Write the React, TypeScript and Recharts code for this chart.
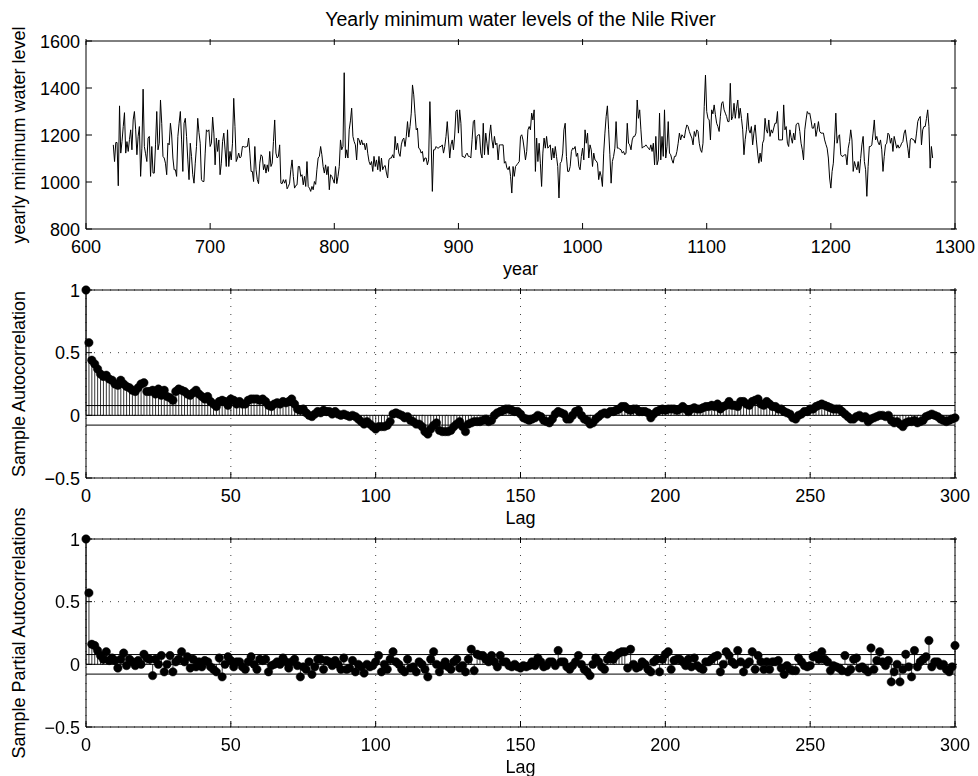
import React from "react";
import {
  ComposedChart,
  LineChart,
  Line,
  Bar,
  XAxis,
  YAxis,
  CartesianGrid,
  ReferenceLine,
  Label,
} from "recharts";

// Nile yearly minima, one value per year starting at 622
const FIRST_YEAR = 622;

const levels622to771 = [
  1158, 1087, 1168, 1168, 984, 1324, 1123, 1172, 1236, 1295,
  1123, 1172, 1130, 1180, 1222, 1137, 1264, 1300, 1222, 1116,
  1194, 1236, 1024, 1144, 1395, 1151, 1120, 1087, 1187, 1194,
  1024, 1151, 1038, 1038, 1158, 1300, 1137, 1165, 1349, 1250,
  1109, 1102, 1080, 1031, 1165, 1158, 1250, 1200, 1102, 1052,
  1052, 1024, 1194, 1250, 1300, 1179, 1045, 1250, 1271, 1194,
  1094, 1010, 1165, 1109, 1031, 995, 1080, 1151, 1271, 1210,
  1165, 1010, 1002, 1002, 1123, 1222, 1215, 1222, 1151, 1165,
  1276, 1208, 1073, 1187, 1130, 1179, 1031, 1080, 1172, 1208,
  1140, 1066, 1222, 1066, 1130, 1094, 1165, 1356, 1236, 1087,
  1102, 1123, 1102, 1109, 1151, 1151, 1148, 1150, 1151, 1187,
  1123, 1045, 1045, 1002, 1151, 1052, 1010, 993, 1080, 1116,
  1109, 1052, 1075, 1038, 1073, 1045, 1130, 1066, 1080, 1172,
  1264, 1123, 1102, 1109, 1158, 995, 993, 1010, 995, 1010,
  971, 981, 995, 1052, 1094, 1024, 974, 985, 988, 1066,
];

const levels772to957 = [
  1066, 1024, 1031, 988, 1024, 981, 1087, 981, 974, 960,
  981, 967, 1002, 990, 1052, 1102, 1109, 1151, 1116, 1066,
  1038, 1073, 1031, 1066, 967, 1031, 1024, 1010, 995, 1066,
  993, 1024, 1066, 1179, 1137, 1151, 1465, 1102, 1137, 1102,
  1222, 1260, 1314, 1194, 1172, 1158, 1094, 1187, 1179, 1158,
  1179, 1158, 1165, 1137, 1165, 1120, 1087, 1073, 1087, 1045,
  1109, 1066, 1094, 1052, 1109, 1045, 1102, 1052, 1066, 1070,
  1038, 1017, 1094, 1102, 1102, 1116, 1102, 1194, 1137, 1165,
  1123, 1109, 1158, 1180, 1187, 1151, 1194, 1257, 1191, 1236,
  1293, 1413, 1371, 1293, 1222, 1229, 1144, 1140, 1123, 1130,
  1087, 1102, 1102, 1073, 1094, 1342, 1179, 960, 1137, 1137,
  1151, 1145, 1144, 1151, 1151, 1158, 1123, 1151, 1194, 1257,
  1179, 1102, 1158, 1179, 1137, 1200, 1300, 1307, 1208, 1307,
  1250, 1109, 1109, 1102, 1116, 1123, 1109, 1109, 1102, 1180,
  1257, 1264, 1137, 1194, 1201, 1201, 1123, 1102, 1250, 1116,
  1208, 1165, 1116, 1200, 1243, 1179, 1144, 1194, 1158, 1165,
  1094, 1158, 1158, 1158, 1158, 1080, 1087, 1060, 1052, 1066,
  1024, 953, 1066, 1024, 1066, 1073, 1080, 1087, 1194, 1201,
  1179, 1140, 1094, 1130, 1222, 1236,
];

const levels958to1142 = [
  1222, 1293, 1264, 1307, 1045, 1187, 1087, 1165, 1080, 981,
  1123, 1187, 1144, 1194, 1144, 1150, 1158, 1094, 1144, 1102,
  1151, 1109, 1066, 932, 1080, 1087, 1123, 1222, 1250, 1109,
  1045, 1045, 1066, 1130, 1144, 1140, 1151, 1109, 1123, 1066,
  1052, 1109, 1144, 1094, 1222, 1165, 1208, 1102, 1158, 1137,
  1066, 1123, 1094, 1090, 1080, 1010, 1045, 1024, 981, 1123,
  1208, 1279, 1324, 1222, 1116, 995, 1087, 1109, 1144, 1257,
  1144, 1144, 1140, 1137, 1123, 1130, 1116, 1123, 1250, 1165,
  1158, 1137, 1179, 1194, 1194, 1208, 1349, 1271, 1307, 1222,
  1144, 1150, 1151, 1158, 1151, 1144, 1137, 1158, 1130, 1165,
  1073, 1194, 1073, 1094, 1293, 1094, 1194, 1109, 1307, 1102,
  1150, 1257, 1123, 1116, 1094, 1080, 1109, 1109, 1130, 1165,
  1208, 1179, 1201, 1194, 1187, 1222, 1243, 1236, 1215, 1200,
  1187, 1158, 1215, 1194, 1222, 1215, 1165, 1137, 1126, 1165,
  1321, 1455, 1300, 1271, 1264, 1179, 1307, 1290, 1328, 1286,
  1250, 1236, 1215, 1279, 1335, 1342, 1307, 1293, 1279, 1257,
  1257, 1420, 1264, 1279, 1335, 1271, 1314, 1349, 1271, 1314,
  1271, 1222, 1116, 1180, 1222, 1293, 1222, 1208, 1236, 1158,
  1208, 1243, 1179,
];

const levels1143to1284 = [
  1123, 1080, 1123, 1087, 1165, 1179, 1271, 1222, 1208, 1264,
  1194, 1222, 1208, 1230, 1250, 1250, 1300, 1179, 1179, 1179,
  1179, 1328, 1222, 1236, 1165, 1151, 1222, 1190, 1165, 1208,
  1179, 1243, 1250, 1250, 1215, 1165, 1137, 1094, 1222, 1264,
  1300, 1290, 1293, 1264, 1229, 1229, 1250, 1194, 1222, 1257,
  1215, 1208, 1208, 1208, 1179, 1160, 1144, 1102, 1017, 974,
  1045, 1080, 1179, 1293, 1165, 1194, 1201, 1116, 1109, 1110,
  1116, 1116, 1073, 1144, 1172, 1222, 1179, 1045, 1087, 1066,
  1052, 1087, 1038, 1100, 1158, 1194, 1087, 1052, 939, 1066,
  1151, 1151, 1158, 1208, 1264, 1179, 1194, 1170, 1158, 1179,
  1137, 1045, 1109, 1158, 1165, 1208, 1201, 1165, 1187, 1130,
  1194, 1170, 1144, 1158, 1144, 1151, 1165, 1172, 1208, 1222,
  1179, 1144, 1102, 1179, 1187, 1180, 1179, 1165, 1208, 1257,
  1271, 1279, 1158, 1222, 1236, 1236, 1270, 1307, 1236, 1059,
  1151, 1102,
];

// sample autocorrelation, lags 0..300
const sampleAcf = [
  1, 0.58, 0.44, 0.41, 0.37, 0.33, 0.31, 0.32, 0.29, 0.28,
  0.25, 0.24, 0.28, 0.25, 0.23, 0.22, 0.2, 0.19, 0.22, 0.25,
  0.26, 0.19, 0.19, 0.2, 0.17, 0.21, 0.16, 0.2, 0.15, 0.14,
  0.12, 0.19, 0.21, 0.2, 0.19, 0.17, 0.16, 0.18, 0.2, 0.17,
  0.15, 0.13, 0.15, 0.11, 0.09, 0.07, 0.11, 0.12, 0.11, 0.08,
  0.13, 0.12, 0.09, 0.11, 0.09, 0.09, 0.12, 0.13, 0.13, 0.13,
  0.12, 0.13, 0.11, 0.08, 0.07, 0.09, 0.1, 0.09, 0.11, 0.1,
  0.11, 0.13, 0.09, 0.05, 0.04, 0.05, 0.02, 0, -0.01, 0.01,
  0.03, 0.02, 0.04, 0.03, 0.03, 0.01, 0.03, 0.01, 0, 0.01,
  0, -0.01, 0, -0.01, -0.03, -0.05, -0.07, -0.05, -0.07, -0.09,
  -0.11, -0.09, -0.09, -0.09, -0.08, -0.05, 0.01, 0.02, 0.01, 0,
  -0.02, -0.01, -0.04, -0.05, -0.07, -0.07, -0.09, -0.13, -0.15, -0.11,
  -0.08, -0.06, -0.12, -0.13, -0.13, -0.13, -0.12, -0.09, -0.07, -0.05,
  -0.09, -0.13, -0.07, -0.06, -0.05, -0.05, -0.05, -0.04, -0.03, -0.05,
  -0.04, 0, 0.02, 0.03, 0.04, 0.05, 0.05, 0.04, 0.03, 0.03,
  0.01, -0.02, -0.03, -0.04, -0.03, -0.02, 0, -0.01, -0.04, -0.05,
  -0.06, -0.03, 0.01, 0.03, 0.02, 0.01, -0.03, -0.03, 0, 0.03,
  0.04, 0, -0.03, -0.04, -0.07, -0.06, -0.03, -0.01, 0.01, 0.02,
  0.01, 0.03, 0.03, 0.04, 0.05, 0.07, 0.07, 0.05, 0.04, 0.05,
  0.05, 0.03, 0.03, 0.03, 0.02, -0.02, 0.01, 0.03, 0.04, 0.05,
  0.04, 0.05, 0.05, 0.05, 0.04, 0.05, 0.07, 0.05, 0.03, 0.05,
  0.06, 0.05, 0.05, 0.06, 0.07, 0.07, 0.08, 0.07, 0.09, 0.05,
  0.07, 0.08, 0.11, 0.08, 0.08, 0.07, 0.11, 0.11, 0.09, 0.08,
  0.11, 0.12, 0.13, 0.09, 0.08, 0.11, 0.09, 0.07, 0.07, 0.05,
  0.05, 0.03, 0.02, 0.01, -0.02, -0.03, 0, 0.01, 0.03, 0.03,
  0.05, 0.05, 0.07, 0.08, 0.09, 0.08, 0.07, 0.06, 0.05, 0.05,
  0.05, 0.03, 0.01, -0.01, -0.03, -0.03, -0.01, 0, -0.02, -0.01,
  -0.05, -0.03, -0.02, -0.01, 0, 0, -0.01, 0, -0.04, -0.06,
  -0.05, -0.07, -0.09, -0.06, -0.05, -0.05, -0.04, -0.06, -0.05, -0.04,
  -0.01, 0, 0.01, 0, -0.01, -0.03, -0.04, -0.05, -0.04, -0.03,
  -0.02,
];

// sample partial autocorrelations, lags 0..300
const samplePacf = [
  1, 0.57, 0.16, 0.15, 0.11, 0.07, 0.04, 0.1, 0.03, 0.05,
  0.03, -0.03, 0.04, 0.09, -0.01, 0.04, 0.02, -0.01, 0.03, 0,
  0.08, 0.05, 0.04, -0.09, 0.04, 0, 0.07, -0.06, 0, 0.07,
  -0.06, 0.02, 0.04, 0.1, 0.02, 0.06, -0.03, 0.04, -0.02, 0.02,
  -0.02, 0.03, 0.02, -0.02, -0.04, -0.06, 0.05, -0.1, 0, 0.06,
  0.03, -0.02, 0.02, 0.02, -0.02, -0.04, 0.02, 0.06, 0, -0.04,
  0.04, 0.03, 0.04, -0.06, -0.01, 0, 0.02, 0, 0.05, 0.02,
  -0.03, 0.02, 0.04, -0.01, -0.1, -0.02, -0.04, 0.02, -0.08, -0.02,
  0.04, 0.04, -0.04, 0.03, 0.02, -0.01, 0.03, 0, -0.04, 0.05,
  -0.04, -0.03, 0.03, -0.06, 0, -0.02, -0.07, 0, -0.02, -0.01,
  0.02, 0.07, -0.06, 0, -0.04, 0.04, 0.1, 0.02, 0, -0.04,
  -0.06, 0.04, -0.03, -0.02, -0.06, 0.02, 0, -0.04, -0.1, 0.04,
  0.1, 0, -0.06, -0.01, 0.02, -0.02, -0.04, 0.02, 0.04, -0.03,
  -0.01, -0.06, 0.04, 0.12, -0.05, 0.08, 0.07, 0.07, 0.04, 0.02,
  0.07, 0.02, -0.02, 0.07, 0.02, 0.02, -0.01, -0.02, 0, -0.02,
  -0.03, -0.01, -0.02, -0.01, 0.02, -0.01, 0.05, 0.02, -0.02, -0.01,
  0.02, 0.02, -0.01, 0.11, 0.02, 0.02, -0.02, -0.04, -0.01, 0.02,
  0.07, 0, -0.04, -0.06, -0.09, 0, 0.05, 0.02, -0.02, -0.04,
  0.04, 0.07, 0.04, 0.07, 0.09, 0.1, 0.1, -0.03, 0.12, 0,
  -0.03, -0.02, 0.02, 0, -0.04, -0.06, 0.02, 0.04, -0.06, 0.04,
  0.08, 0.1, -0.04, 0.03, 0.04, 0.04, 0.02, -0.01, 0.04, -0.02,
  0.05, -0.01, -0.03, -0.04, 0.02, 0.02, 0.04, 0.06, 0.07, -0.06,
  0, 0.1, 0.07, 0.02, 0, 0.11, 0.02, -0.06, 0, 0.02,
  0.1, -0.04, 0.07, 0.02, -0.04, 0.02, -0.04, 0.02, 0.02, 0.03,
  -0.03, -0.08, -0.01, -0.04, -0.05, -0.05, 0.05, 0.02, -0.01, -0.02,
  -0.01, 0.06, 0.07, 0.04, 0.1, 0.04, 0.02, -0.05, -0.01, -0.02,
  -0.03, -0.05, 0.07, -0.06, -0.04, 0.04, 0.05, -0.03, -0.02, -0.04,
  -0.06, 0.13, -0.04, 0.03, 0.1, 0.02, -0.01, 0.03, -0.14, -0.06,
  0, -0.14, -0.04, 0.08, -0.02, -0.1, 0.11, -0.02, 0.02, 0.04,
  0.06, 0.19, -0.02, 0.02, 0.02, -0.01, 0, -0.04, -0.06, -0.02,
  0.15,
];

const confBound = 0.078;

const yearTicks = [600, 700, 800, 900, 1000, 1100, 1200, 1300];
const levelTicks = [800, 1000, 1200, 1400, 1600];
const lagTicks = [0, 50, 100, 150, 200, 250, 300];
const corrTicks = [-0.5, 0, 0.5, 1];

const nileLevels = [...levels622to771, ...levels772to957, ...levels958to1142, ...levels1143to1284];
const nileData = nileLevels.map((level, i) => ({ year: FIRST_YEAR + i, level }));
const acfData = sampleAcf.map((r, lag) => ({ lag, r }));
const pacfData = samplePacf.map((r, lag) => ({ lag, r }));

const FONT = '"Liberation Sans", Arial, Helvetica, sans-serif';
const FS = 18;
const TICK = 6;
const W = 978;
const H = 279;
const MARGIN = { top: 40, right: 22, bottom: 0, left: 0 };

const fmt = (v: number) => (v < 0 ? `\u2212${Math.abs(v)}` : `${v}`);

const BottomTick = ({ x, y, payload }: any) => (
  <g>
    <line x1={x} x2={x} y1={y} y2={y - TICK} stroke="#000" />
    <text x={x} y={y + 24} textAnchor="middle" fontSize={FS} fontFamily={FONT} fill="#000">
      {fmt(payload.value)}
    </text>
  </g>
);

const LeftTick = ({ x, y, payload }: any) => (
  <g>
    <line x1={x} x2={x + TICK} y1={y} y2={y} stroke="#000" />
    <text x={x - 6} y={y + 6.5} textAnchor="end" fontSize={FS} fontFamily={FONT} fill="#000">
      {fmt(payload.value)}
    </text>
  </g>
);

const TopTick = ({ x, y }: any) => <line x1={x} x2={x} y1={y} y2={y + TICK} stroke="#000" />;
const RightTick = ({ x, y }: any) => <line x1={x} x2={x - TICK} y1={y} y2={y} stroke="#000" />;

const xTitle = (text: string) => ({ viewBox }: any) => (
  <text x={viewBox.x + viewBox.width / 2} y={viewBox.y + 46} textAnchor="middle" fontSize={FS} fontFamily={FONT} fill="#000">
    {text}
  </text>
);

const yTitle = (text: string) => ({ viewBox }: any) => (
  <text
    transform={`translate(${viewBox.x + 25},${viewBox.y + viewBox.height / 2}) rotate(-90)`}
    textAnchor="middle"
    fontSize={FS}
    fontFamily={FONT}
    fill="#000"
  >
    {text}
  </text>
);

const chartTitle = (text: string) => ({ viewBox }: any) => (
  <text x={viewBox.x + viewBox.width / 2} y={viewBox.y - 14} textAnchor="middle" fontSize={19.5} fontFamily={FONT} fill="#000">
    {text}
  </text>
);

const Stem = (props: any) => {
  const { x, y, width, height } = props;
  if (x == null || y == null) return null;
  const cx = x + width / 2;
  return <line x1={cx} x2={cx} y1={y} y2={y + height} stroke="#000" strokeWidth={0.8} />;
};

function CorrPanel({ data, label, top }: { data: { lag: number; r: number }[]; label: string; top: number }) {
  return (
    <div style={{ position: "absolute", left: 0, top }}>
      <ComposedChart width={W} height={H} data={data} margin={MARGIN}>
        <CartesianGrid stroke="#444" strokeDasharray="1 7" />
        <XAxis
          dataKey="lag"
          type="number"
          domain={[0, 300]}
          ticks={lagTicks}
          height={50}
          tickSize={0}
          tickMargin={0}
          tickLine={false}
          stroke="#000"
          tick={(p: any) => <BottomTick {...p} />}
        >
          <Label content={xTitle("Lag")} />
        </XAxis>
        <XAxis
          xAxisId="top"
          dataKey="lag"
          orientation="top"
          type="number"
          domain={[0, 300]}
          ticks={lagTicks}
          height={1}
          tickSize={0}
          tickLine={false}
          stroke="#000"
          tick={(p: any) => <TopTick {...p} />}
        />
        <YAxis
          type="number"
          domain={[-0.5, 1]}
          ticks={corrTicks}
          width={86}
          tickSize={0}
          tickMargin={0}
          tickLine={false}
          stroke="#000"
          tick={(p: any) => <LeftTick {...p} />}
        >
          <Label content={yTitle(label)} />
        </YAxis>
        <YAxis
          yAxisId="right"
          orientation="right"
          type="number"
          domain={[-0.5, 1]}
          ticks={corrTicks}
          width={1}
          tickSize={0}
          tickLine={false}
          stroke="#000"
          tick={(p: any) => <RightTick {...p} />}
        />
        <ReferenceLine y={0} stroke="#000" />
        <ReferenceLine y={confBound} stroke="#000" />
        <ReferenceLine y={-confBound} stroke="#000" />
        {/* invisible series so the top and right frame axes get drawn */}
        <Line xAxisId="top" yAxisId="right" dataKey="r" stroke="none" dot={false} activeDot={false} isAnimationActive={false} />
        <Bar dataKey="r" barSize={1} fill="#000" shape={Stem} isAnimationActive={false} />
        <Line
          dataKey="r"
          stroke="none"
          dot={{ r: 4.2, fill: "#000", stroke: "#000", strokeWidth: 0.5 }}
          activeDot={false}
          isAnimationActive={false}
        />
      </ComposedChart>
    </div>
  );
}

export default function App() {
  return (
    <div style={{ position: "fixed", left: 0, top: 0, width: W, height: 776, background: "#fff" }}>
      <div style={{ position: "absolute", left: 0, top: 0 }}>
        <LineChart width={W} height={H} data={nileData} margin={MARGIN}>
          <XAxis
            dataKey="year"
            type="number"
            domain={[600, 1300]}
            ticks={yearTicks}
            height={50}
            tickSize={0}
            tickMargin={0}
            tickLine={false}
            stroke="#000"
            tick={(p: any) => <BottomTick {...p} />}
          >
            <Label content={xTitle("year")} />
          </XAxis>
          <XAxis
            xAxisId="top"
            dataKey="year"
            orientation="top"
            type="number"
            domain={[600, 1300]}
            ticks={yearTicks}
            height={1}
            tickSize={0}
            tickLine={false}
            stroke="#000"
            tick={(p: any) => <TopTick {...p} />}
          >
            <Label content={chartTitle("Yearly minimum water levels of the Nile River")} />
          </XAxis>
          <YAxis
            type="number"
            domain={[800, 1600]}
            ticks={levelTicks}
            width={86}
            tickSize={0}
            tickMargin={0}
            tickLine={false}
            stroke="#000"
            tick={(p: any) => <LeftTick {...p} />}
          >
            <Label content={yTitle("yearly minimum water level")} />
          </YAxis>
          <YAxis
            yAxisId="right"
            orientation="right"
            type="number"
            domain={[800, 1600]}
            ticks={levelTicks}
            width={1}
            tickSize={0}
            tickLine={false}
            stroke="#000"
            tick={(p: any) => <RightTick {...p} />}
          />
          {/* invisible series so the top and right frame axes get drawn */}
          <Line xAxisId="top" yAxisId="right" dataKey="level" stroke="none" dot={false} activeDot={false} isAnimationActive={false} />
          <Line type="linear" dataKey="level" stroke="#000" strokeWidth={1} dot={false} isAnimationActive={false} />
        </LineChart>
      </div>
      <CorrPanel data={acfData} label="Sample Autocorrelation" top={249} />
      <CorrPanel data={pacfData} label="Sample Partial Autocorrelations" top={498} />
    </div>
  );
}
